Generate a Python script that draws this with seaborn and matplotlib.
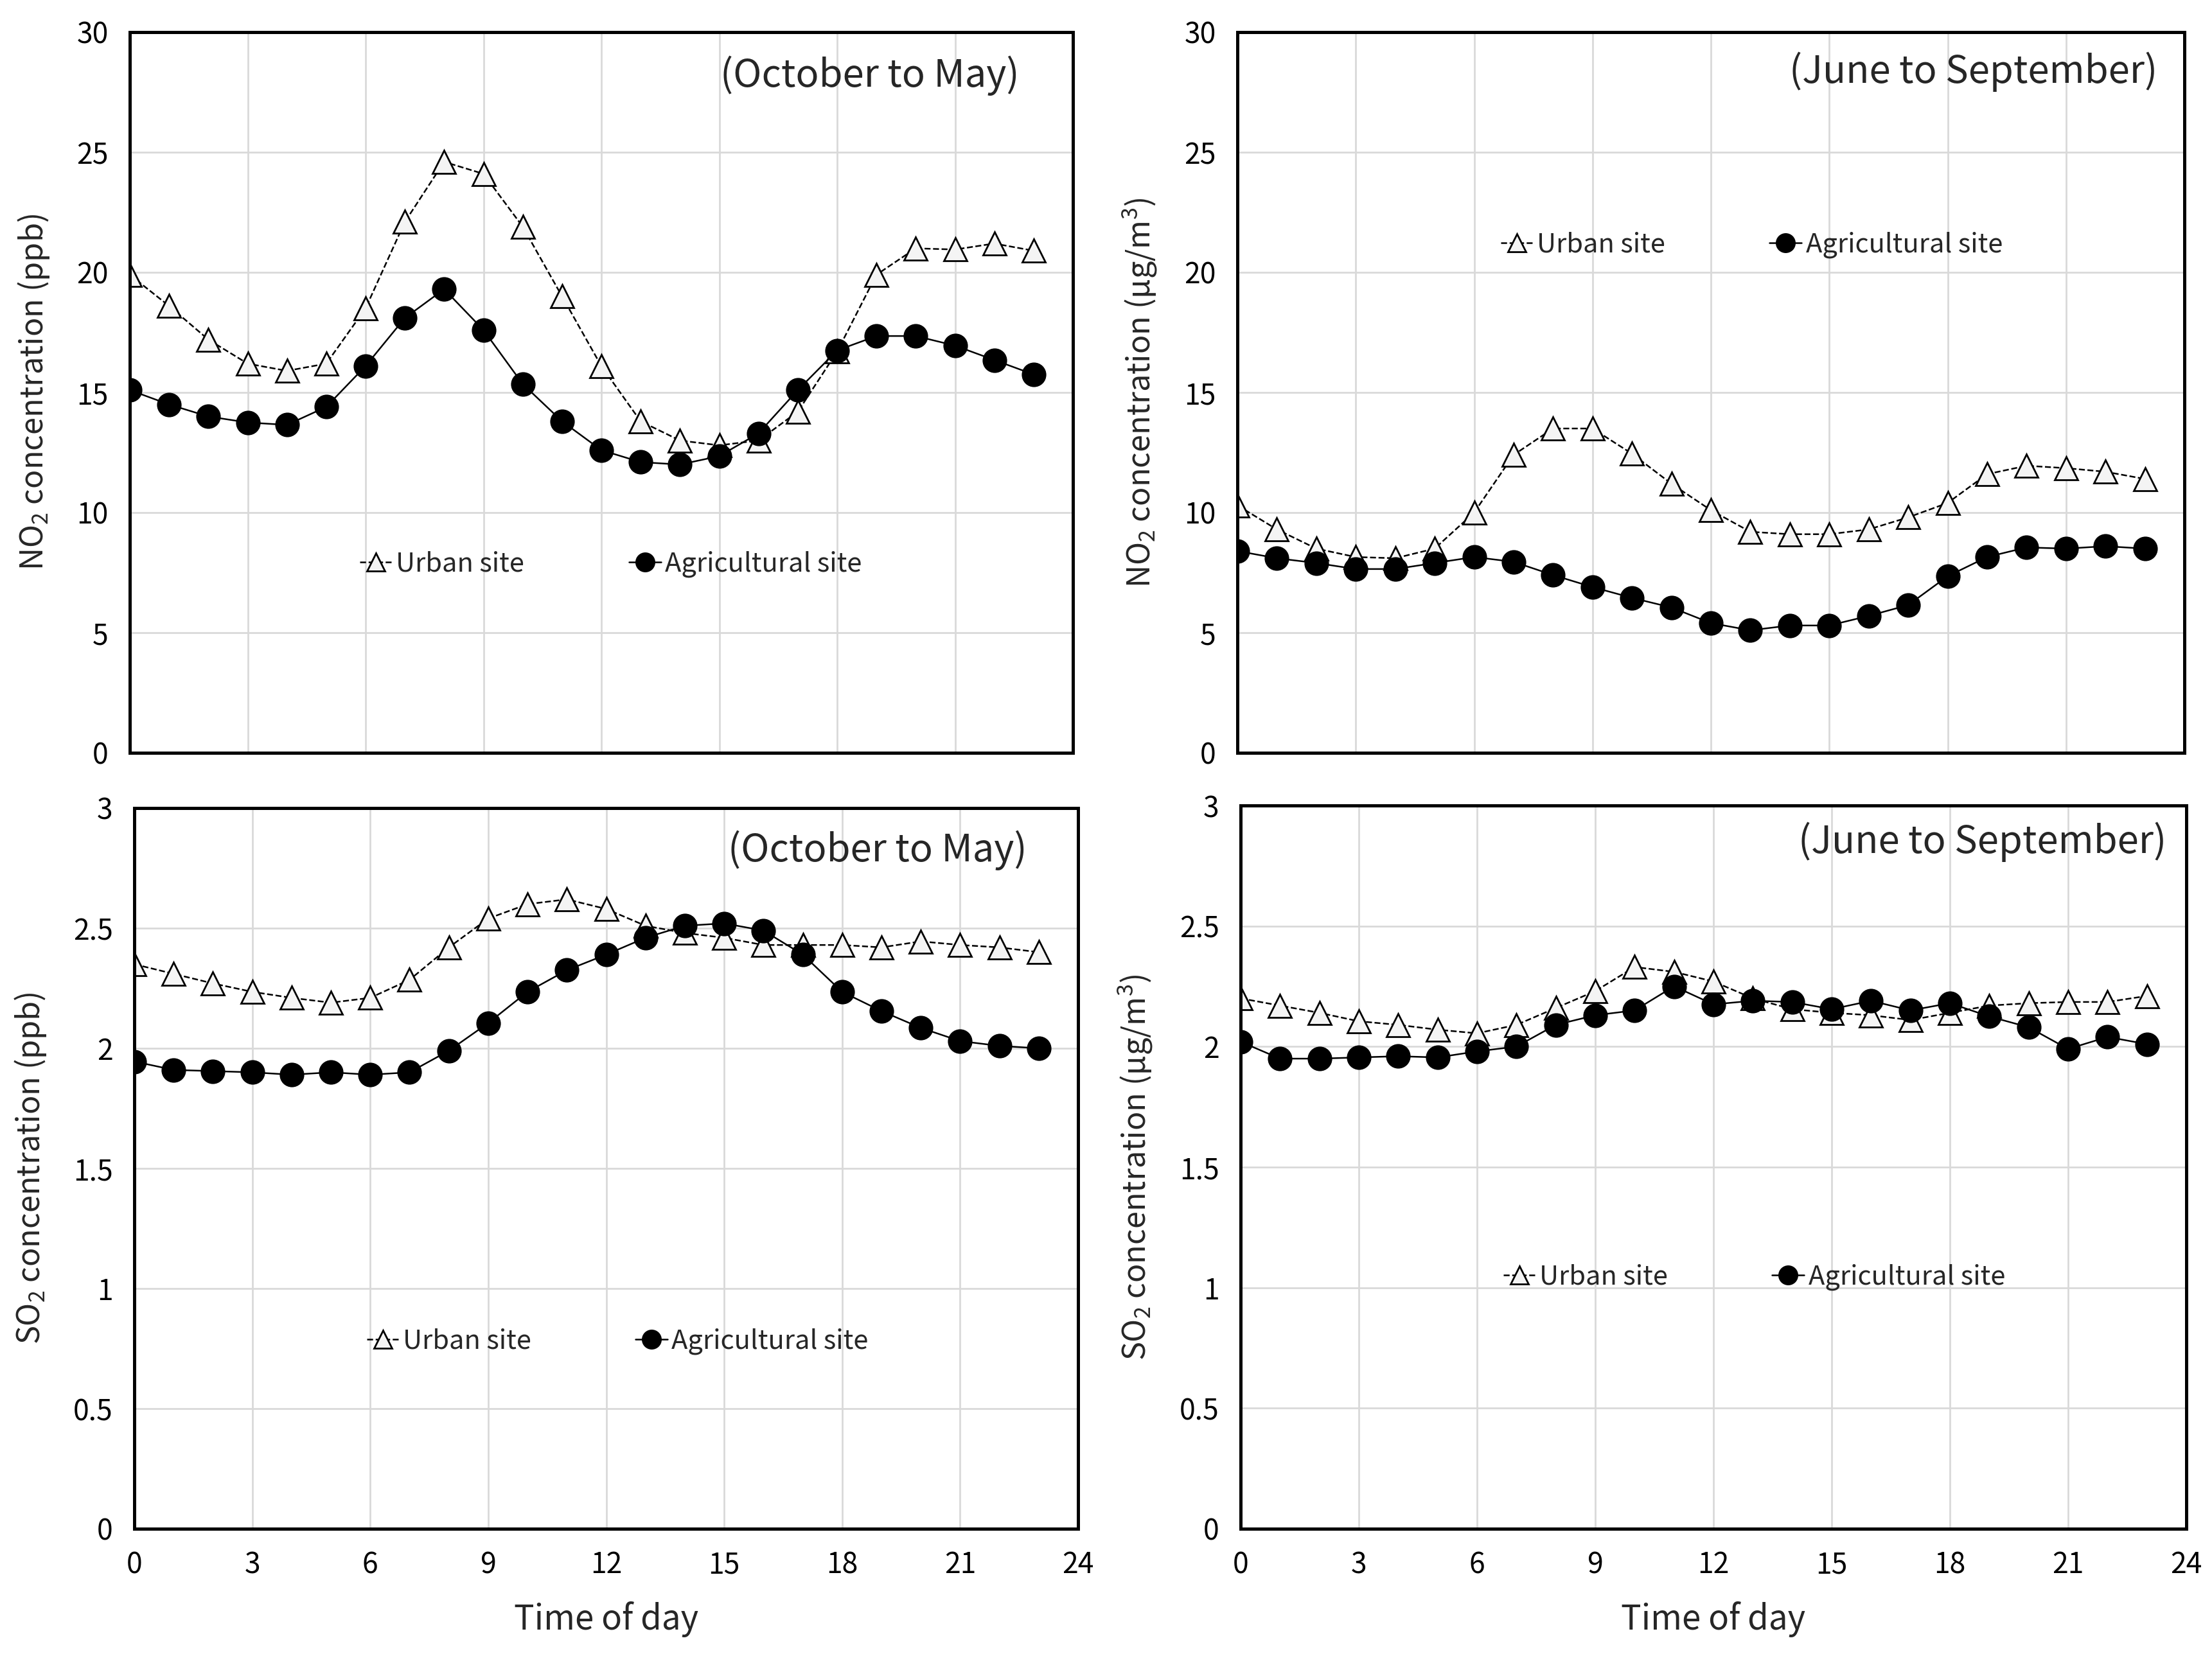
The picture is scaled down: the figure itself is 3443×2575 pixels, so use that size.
import matplotlib
matplotlib.use("Agg")
import matplotlib.pyplot as plt
import seaborn as sns
import numpy as np
from matplotlib.ticker import FuncFormatter, MultipleLocator

sns.set_theme(style="white")
plt.rcParams['font.family'] = ['Noto Sans CJK KR', 'DejaVu Sans']
plt.rcParams['mathtext.fontset'] = 'custom'
plt.rcParams['mathtext.rm'] = 'Noto Sans CJK KR'

hours = list(range(24))

no2_cold_urban = [19.9, 18.6, 17.2, 16.2, 15.9, 16.2, 18.5, 22.1, 24.6, 24.1, 21.9, 19.0,
                  16.1, 13.8, 13.0, 12.8, 13.0, 14.2, 16.7, 19.9, 21.0, 20.95, 21.2, 20.9]
no2_cold_agri = [15.1, 14.5, 14.0, 13.75, 13.65, 14.4, 16.1, 18.1, 19.3, 17.6, 15.35, 13.8,
                 12.6, 12.1, 12.0, 12.35, 13.3, 15.1, 16.75, 17.35, 17.35, 16.95, 16.35, 15.75]

no2_warm_urban = [10.3, 9.3, 8.5, 8.15, 8.1, 8.5, 10.0, 12.4, 13.5, 13.5, 12.45, 11.2,
                  10.1, 9.2, 9.1, 9.1, 9.3, 9.8, 10.4, 11.6, 11.95, 11.85, 11.7, 11.4]
no2_warm_agri = [8.4, 8.1, 7.9, 7.65, 7.65, 7.9, 8.15, 7.95, 7.4, 6.9, 6.45, 6.05,
                 5.4, 5.1, 5.3, 5.3, 5.7, 6.15, 7.35, 8.15, 8.55, 8.5, 8.6, 8.5]

so2_cold_urban = [2.35, 2.31, 2.27, 2.235, 2.21, 2.19, 2.21, 2.285, 2.42, 2.54, 2.60, 2.62,
                  2.58, 2.51, 2.48, 2.46, 2.43, 2.43, 2.43, 2.42, 2.445, 2.43, 2.42, 2.40]
so2_cold_agri = [1.945, 1.91, 1.905, 1.90, 1.89, 1.90, 1.89, 1.90, 1.99, 2.105, 2.235, 2.325,
                 2.39, 2.46, 2.51, 2.52, 2.49, 2.39, 2.235, 2.155, 2.085, 2.03, 2.01, 2.0]

so2_warm_urban = [2.20, 2.17, 2.14, 2.105, 2.09, 2.07, 2.055, 2.09, 2.16, 2.23, 2.33, 2.31,
                  2.27, 2.20, 2.155, 2.14, 2.13, 2.11, 2.14, 2.17, 2.18, 2.185, 2.185, 2.21]
so2_warm_agri = [2.02, 1.95, 1.95, 1.955, 1.96, 1.955, 1.98, 2.0, 2.09, 2.13, 2.15, 2.25,
                 2.175, 2.19, 2.185, 2.155, 2.19, 2.15, 2.18, 2.125, 2.08, 1.99, 2.04, 2.01]

period_labels = ["(October to May)", "(June to September)"]
series_labels = ["Urban site", "Agricultural site"]
ylabels = ["NO$_\\mathregular{2}$ concentration (ppb)",
           "NO$_\\mathregular{2}$ concentration (μg/m$^\\mathregular{3}$)",
           "SO$_\\mathregular{2}$ concentration (ppb)",
           "SO$_\\mathregular{2}$ concentration (μg/m$^\\mathregular{3}$)"]
xlabel = "Time of day"

W, H = 3443, 2575
fig = plt.figure(figsize=(W / 200, H / 200), dpi=200)

def rect(l, r, t, b):
    return [l / W, 1 - b / H, (r - l) / W, (b - t) / H]

panels = [
    dict(rect=rect(202, 1670, 50, 1172), urban=no2_cold_urban, agri=no2_cold_agri,
         ylim=30, step=5, period=period_labels[0], ptxt=(0.943, 0.94),
         leg=(0.51, 0.262), ylabel=ylabels[0], bottom=False),
    dict(rect=rect(1926, 3400, 50, 1172), urban=no2_warm_urban, agri=no2_warm_agri,
         ylim=30, step=5, period=period_labels[1], ptxt=(0.972, 0.945),
         leg=(0.543, 0.705), ylabel=ylabels[1], bottom=False),
    dict(rect=rect(209, 1678, 1258, 2380), urban=so2_cold_urban, agri=so2_cold_agri,
         ylim=3, step=0.5, period=period_labels[0], ptxt=(0.946, 0.941),
         leg=(0.512, 0.26), ylabel=ylabels[2], bottom=True),
    dict(rect=rect(1931, 3403, 1254, 2380), urban=so2_warm_urban, agri=so2_warm_agri,
         ylim=3, step=0.5, period=period_labels[1], ptxt=(0.979, 0.95),
         leg=(0.543, 0.348), ylabel=ylabels[3], bottom=True),
]

for p in panels:
    ax = fig.add_axes(p["rect"])
    sns.lineplot(x=hours, y=p["urban"], ax=ax, color="black", linestyle="--", linewidth=0.9,
                 marker="^", markersize=13, markerfacecolor="#f4f4f4", markeredgecolor="black",
                 markeredgewidth=1.0, label=series_labels[0])
    sns.lineplot(x=hours, y=p["agri"], ax=ax, color="black", linestyle="-", linewidth=0.9,
                 marker="o", markersize=13, markerfacecolor="black", markeredgecolor="black",
                 label=series_labels[1])
    ax.set_xlim(0, 24)
    ax.set_ylim(0, p["ylim"])
    ax.xaxis.set_major_locator(MultipleLocator(3))
    ax.yaxis.set_major_locator(MultipleLocator(p["step"]))
    ax.yaxis.set_major_formatter(FuncFormatter(lambda v, pos: f"{v:g}"))
    ax.grid(True, color="#d9d9d9", linewidth=1.0)
    ax.set_axisbelow(True)
    for s in ax.spines.values():
        s.set_color("black")
        s.set_linewidth(1.8)
    ax.tick_params(axis="both", length=0, labelsize=16, pad=12, colors="black")
    if p["bottom"]:
        ax.set_xlabel(xlabel, fontsize=19, labelpad=12)
    else:
        ax.set_xlabel("")
        ax.tick_params(axis="x", labelbottom=False)
    ax.set_ylabel(p["ylabel"], fontsize=17.5, labelpad=14)
    ax.text(p["ptxt"][0], p["ptxt"][1], p["period"], transform=ax.transAxes,
            ha="right", va="center", fontsize=21.5)
    leg = ax.legend(loc="center", bbox_to_anchor=p["leg"], ncol=2, frameon=False,
                    fontsize=15, handlelength=1.2, handletextpad=0.15,
                    columnspacing=3.9, markerscale=0.8)

fig.savefig("out.png", dpi=200, facecolor="white")
